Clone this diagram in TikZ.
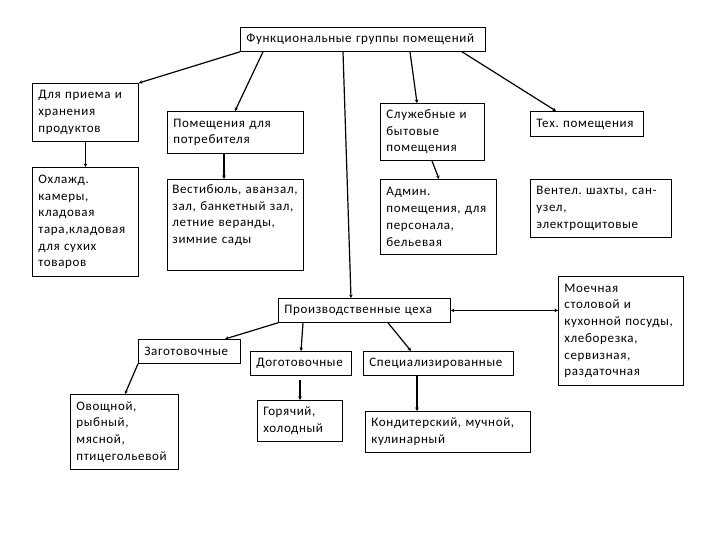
\documentclass[tikz,border=0pt]{standalone}
\usepackage{fontspec}
\setmainfont{Carlito}[LetterSpace=5]
\frenchspacing
\usetikzlibrary{arrows.meta}
\tikzset{
  box/.style={draw, line width=0.8pt, inner xsep=6pt, inner ysep=0pt, anchor=north west, align=left,
    font=\fontsize{13}{16.7}\selectfont\frenchspacing},
  conn/.style={line width=1.2pt, -{Stealth[length=3.5pt,width=3.5pt]}},
  dconn/.style={line width=1pt, {Stealth[length=3.5pt,width=3.5pt]}-{Stealth[length=3.5pt,width=3.5pt]}}
}
\begin{document}
\begin{tikzpicture}[x=1pt,y=-1pt]
\useasboundingbox (0,0) rectangle (720,540);
\node[box, text width=233pt, minimum height=24pt] (top) at (240,27) {Функциональные группы помещений};
\node[box, text width=94pt, minimum height=58pt] (A) at (32,83) {Для приема и\\хранения\\продуктов};
\node[box, text width=94pt, minimum height=109pt] (A2) at (32,167) {Охлажд.\\камеры,\\кладовая\\тара,кладовая\\для сухих\\товаров};
\node[box, text width=124pt, minimum height=42pt] (B) at (167,111) {Помещения для\\потребителя};
\node[box, inner xsep=5pt, text width=126pt, minimum height=91pt] (B2) at (167,179) {Вестибюль, аванзал,\\зал, банкетный зал,\\летние веранды,\\зимние сады\\\strut};
\node[box, text width=92pt, minimum height=57pt] (C) at (380,103) {Служебные и\\бытовые\\помещения};
\node[box, text width=104pt, minimum height=75pt] (C2) at (380,179) {Админ.\\помещения, для\\персонала,\\бельевая};
\node[box, text width=101pt, minimum height=25pt] (D) at (530,111) {Тех. помещения};
\node[box, text width=129pt, minimum height=58pt] (D2) at (530,179) {Вентел. шахты, сан-\\узел,\\электрощитовые};
\node[box, text width=113pt, minimum height=109pt] (E) at (558,276) {Моечная\\столовой и\\кухонной посуды,\\хлеборезка,\\сервизная,\\раздаточная};
\node[box, text width=160pt, minimum height=24pt] (P) at (278,298) {Производственные цеха};
\node[box, text width=90pt, minimum height=24pt] (Z) at (138,339) {Заготовочные};
\node[box, text width=96pt, minimum height=75pt] (Z2) at (70,394) {Овощной,\\рыбный,\\мясной,\\птицегольевой};
\node[box, text width=89pt, minimum height=24pt] (Do) at (250,351) {Доготовочные};
\node[box, text width=73pt, minimum height=41pt] (Do2) at (257,400) {Горячий,\\холодный};
\node[box, text width=138pt, minimum height=24pt] (S) at (363,351) {Специализированные};
\node[box, text width=153pt, minimum height=41pt] (S2) at (365,411) {Кондитерский, мучной,\\кулинарный};

\draw[conn] (top.south west) -- (A.north east);
\draw[conn] ([xshift=23pt]top.south west) -- ([xshift=68pt]B.north west);
\draw[conn] ([xshift=103pt]top.south west) -- ([xshift=73pt]P.north west);
\draw[conn] ([xshift=170pt]top.south west) -- ([xshift=37pt]C.north west);
\draw[conn] ([xshift=222pt]top.south west) -- ([xshift=26pt]D.north west);
\draw[conn] (A.south) -- (A2.north);
\draw[conn] ([xshift=57pt]B.south west) -- ([xshift=57pt]B2.north west);
\draw[conn] ([xshift=52pt]C.south west) -- ([xshift=59pt]C2.north west);
\draw[conn] (P.south west) -- ([xshift=87pt]Z.north west);
\draw[conn] ([xshift=25pt]P.south west) -- ([xshift=51pt]Do.north west);
\draw[conn] ([xshift=110pt]P.south west) -- ([xshift=48pt]S.north west);
\draw[dconn] (P.east) -- (P.east -| E.west);
\draw[conn] (Z.south west) -- ([xshift=55pt]Z2.north west);
\draw[conn] ([xshift=50pt,yshift=-4pt]Do.south west) -- ([xshift=43pt]Do2.north west);
\draw[conn] ([xshift=54pt]S.south west) -- ([xshift=52pt]S2.north west);
\end{tikzpicture}
\end{document}
